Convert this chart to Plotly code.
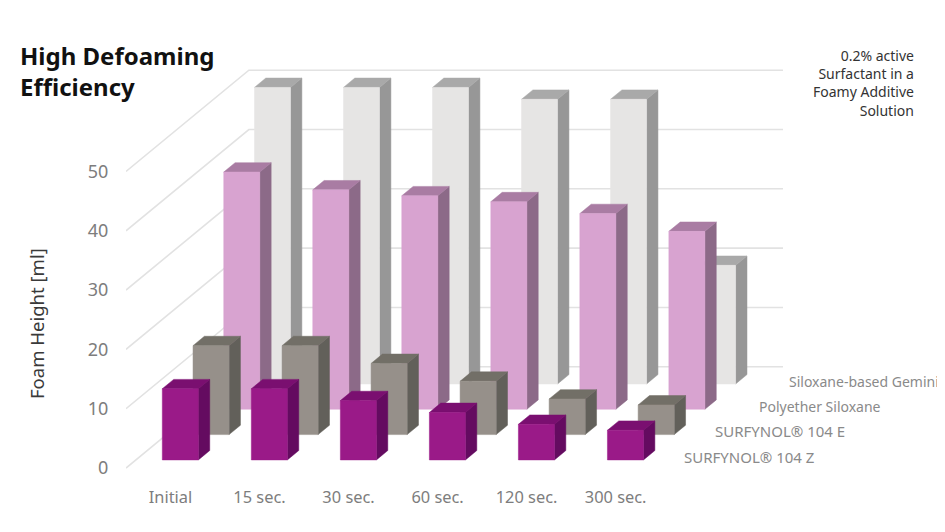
import plotly.graph_objects as go

# ---- data ----
categories = ["Initial", "15 sec.", "30 sec.", "60 sec.", "120 sec.", "300 sec."]
surfynol_z = [12, 12, 10, 8, 6, 5]
surfynol_e = [15, 15, 12, 9, 6, 5]
polyether = [40, 37, 36, 35, 33, 30]
gemini = [50, 50, 50, 48, 48, 20]
y_ticks = [0, 10, 20, 30, 40, 50]
series_names = ["SURFYNOL® 104 Z", "SURFYNOL® 104 E", "Polyether Siloxane", "Siloxane-based Gemini"]

# ---- oblique projection, in axis units ----
SHIFT_X = 0.345      # category units per depth step
SHIFT_Y = 4.27       # foam units per depth step
BAR_W = 0.405
BAR_D = 0.37
WALL_D = 4.0
FIRST_D = 0.32


def proj(x, v, d):
    return x + SHIFT_X * d, v + SHIFT_Y * d


def poly(pts):
    xs, ys = zip(*pts)
    return list(xs) + [xs[0], None], list(ys) + [ys[0], None]


def add_poly(fig, polys, color):
    X, Y = [], []
    for p in polys:
        a, b = poly(p)
        X += a
        Y += b
    fig.add_trace(go.Scatter(x=X, y=Y, mode="lines", fill="toself", fillcolor=color,
                             line=dict(color=color, width=0.5), hoverinfo="skip", showlegend=False))


fig = go.Figure()

# walls
gx, gy = [], []
for v in y_ticks:
    a = proj(-0.5, v, 0)
    b = proj(-0.5, v, WALL_D)
    c = proj(5.5, v, WALL_D)
    gx += [a[0], b[0], c[0], None]
    gy += [a[1], b[1], c[1], None]
fig.add_trace(go.Scatter(x=gx, y=gy, mode="lines", line=dict(color="#e2e2e2", width=1.6),
                         hoverinfo="skip", showlegend=False))

styles = [
    (surfynol_z, "#9a1a88", "#640b60", "#7a0f70"),
    (surfynol_e, "#96908a", "#62605a", "#726f67"),
    (polyether, "#d8a3d0", "#8c6a88", "#a97ca3"),
    (gemini, "#e6e5e4", "#979797", "#a9a9a9"),
]

for s in range(3, -1, -1):
    vals, fc, sc, tc = styles[s]
    d0 = FIRST_D + s
    fronts, sides, tops = [], [], []
    for i, v in enumerate(vals):
        l, r = i - BAR_W / 2, i + BAR_W / 2
        fronts.append([proj(l, 0, d0), proj(r, 0, d0), proj(r, v, d0), proj(l, v, d0)])
        sides.append([proj(r, 0, d0), proj(r, 0, d0 + BAR_D), proj(r, v, d0 + BAR_D), proj(r, v, d0)])
        tops.append([proj(l, v, d0), proj(r, v, d0), proj(r, v, d0 + BAR_D), proj(l, v, d0 + BAR_D)])
    add_poly(fig, sides, sc)
    add_poly(fig, tops, tc)
    add_poly(fig, fronts, fc)

GREY = "#7d7d7d"
F = "Noto Sans"
annots = [
    dict(text="<b>High Defoaming<br>Efficiency</b>", x=18, y=71, xanchor="left", yanchor="middle",
         align="left", font=dict(size=24, color="#111111", family=F)),
    dict(text="0.2% active<br>Surfactant in a<br>Foamy Additive<br>Solution", x=916, y=83, xanchor="right",
         yanchor="middle", align="right", font=dict(size=14, color="#333333", family=F)),
    dict(text="Foam Height [ml]", x=36, y=324, textangle=-90, xanchor="center", yanchor="middle",
         font=dict(size=18.5, color="#3a3a3a", family=F)),
]
label_pos = [(682, 457, 15), (713, 431, 15), (757, 406, 14), (787, 381, 14)]
for name, (px, py, fs) in zip(series_names, label_pos):
    annots.append(dict(text=name, x=px, y=py, xanchor="left", yanchor="middle",
                       font=dict(size=fs, color="#8a8a8a", family=F)))
for a in annots:
    a.update(xref="paper", yref="paper", showarrow=False)
    a["x"] = (a["x"] - 126) / (937 - 126)
    a["y"] = 1 - (a["y"] - 8) / 472

# The page keeps its 8 px body margin, so the figure is 16 px smaller than the window.
fig.update_layout(
    width=929, height=516, autosize=False, paper_bgcolor="white", plot_bgcolor="white",
    margin=dict(l=118, r=0, t=0, b=44), showlegend=False, annotations=annots,
    xaxis=dict(range=[-0.5, 8.61], tickmode="array", tickvals=list(range(6)), ticktext=categories,
               showgrid=False, zeroline=False, showline=False, ticks="outside", ticklen=2,
               tickcolor="rgba(0,0,0,0)", tickfont=dict(size=16.4, color=GREY, family=F)),
    yaxis=dict(range=[-2.02, 77.57], tickmode="array", tickvals=y_ticks, showgrid=False, zeroline=False,
               showline=False, ticks="outside", ticklen=13, tickcolor="rgba(0,0,0,0)",
               tickfont=dict(size=18, color=GREY, family=F)),
)
fig.write_html("out.html")
